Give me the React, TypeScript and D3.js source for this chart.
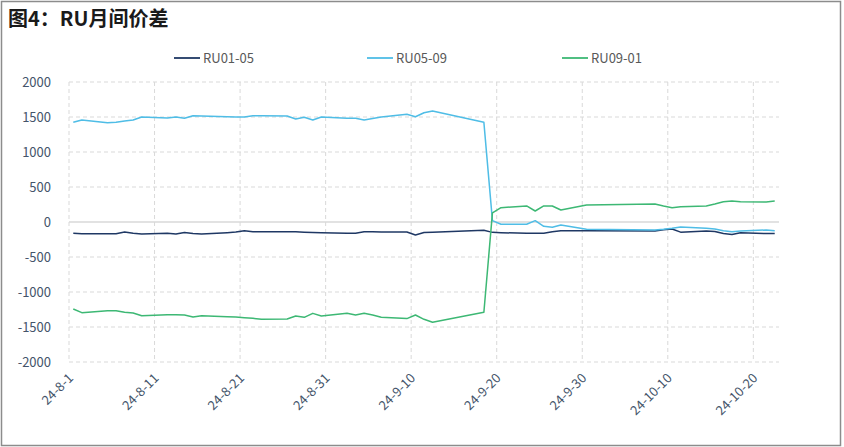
import React from "react";
import * as d3 from "d3";

const dates: string[] = [
  "2024-08-01", "2024-08-02", "2024-08-05", "2024-08-06", "2024-08-07", "2024-08-08", "2024-08-09",
  "2024-08-12", "2024-08-13", "2024-08-14", "2024-08-15", "2024-08-16",
  "2024-08-19", "2024-08-20", "2024-08-21", "2024-08-22", "2024-08-23",
  "2024-08-26", "2024-08-27", "2024-08-28", "2024-08-29", "2024-08-30",
  "2024-09-02", "2024-09-03", "2024-09-04", "2024-09-05", "2024-09-06",
  "2024-09-09", "2024-09-10", "2024-09-11", "2024-09-12",
  "2024-09-18", "2024-09-19", "2024-09-20",
  "2024-09-23", "2024-09-24", "2024-09-25", "2024-09-26", "2024-09-27",
  "2024-09-30",
  "2024-10-08", "2024-10-09", "2024-10-10", "2024-10-11",
  "2024-10-14", "2024-10-15", "2024-10-16", "2024-10-17", "2024-10-18",
  "2024-10-21", "2024-10-22",
];

const ru0105: number[] = [
  -162, -167, -167, -167, -143, -162, -171,
  -162, -171, -150, -165, -171,
  -152, -143, -124, -138, -140,
  -140, -140, -145, -150, -155,
  -162, -162, -140, -140, -143,
  -143, -186, -150, -145,
  -119, -148, -152,
  -162, -162, -160, -140, -124,
  -124,
  -130, -110, -100, -145,
  -130, -135, -165, -180, -155,
  -165, -165,
];

const ru0509: number[] = [
  1424, 1457, 1419, 1424, 1443, 1457, 1500,
  1486, 1500, 1481, 1519, 1514,
  1505, 1500, 1500, 1519, 1519,
  1514, 1471, 1496, 1457, 1500,
  1481, 1481, 1457, 1480, 1500,
  1538, 1504, 1560, 1586,
  1424, 20, -33,
  -33, 19, -62, -76, -43,
  -105,
  -114, -105, -90, -71,
  -90, -100, -125, -138, -130,
  -114, -125,
];

const ru0901: number[] = [
  -1243, -1295, -1267, -1267, -1290, -1300, -1338,
  -1324, -1324, -1330, -1357, -1338,
  -1352, -1357, -1367, -1376, -1390,
  -1386, -1343, -1362, -1305, -1343,
  -1305, -1329, -1305, -1329, -1362,
  -1380, -1329, -1390, -1433,
  -1290, 130, 205,
  229, 157, 229, 229, 171,
  243,
  257, 229, 205, 217,
  229, 257, 290, 300, 290,
  286, 300,
];

const seriesNames: string[] = ["RU01-05", "RU05-09", "RU09-01"];
const seriesColors: string[] = ["#1F3864", "#4FBDE6", "#3DB874"];
const yTicks: number[] = [2000, 1500, 1000, 500, 0, -500, -1000, -1500, -2000];
const xTickDates: string[] = [
  "2024-08-01", "2024-08-11", "2024-08-21", "2024-08-31", "2024-09-10",
  "2024-09-20", "2024-09-30", "2024-10-10", "2024-10-20",
];
const xDomain: string[] = ["2024-08-01", "2024-10-23"];
const title = "图4：RU月间价差";

const W = 844;
const H = 447;
const FONT = "'Noto Sans CJK SC', 'DejaVu Sans', sans-serif";

export default function App() {
  const parse = (s: string) => new Date(s + "T00:00:00Z");
  const x = d3.scaleUtc().domain(xDomain.map(parse)).range([69, 779]);
  const y = d3.scaleLinear().domain([-2000, 2000]).range([362, 82]);
  const xLeft = x.range()[0];
  const xRight = x.range()[1];

  const allSeries = [ru0105, ru0509, ru0901];
  const line = d3
    .line<[Date, number]>()
    .x((d) => x(d3.utcHour.offset(d[0], 12)))
    .y((d) => y(d[1]));

  const fmt = (d: Date) =>
    `${d.getUTCFullYear() % 100}-${d.getUTCMonth() + 1}-${d.getUTCDate()}`;

  const legendX = [174, 367, 562];

  return (
    <svg
      width={W}
      height={H}
      style={{ position: "absolute", left: 0, top: 0, background: "#fff" }}
      fontFamily={FONT}
    >
      <rect x={0} y={0} width={W} height={H} fill="#fff" />
      <rect x={1.5} y={1.5} width={839} height={444} fill="none" stroke="#8c8c8c" strokeWidth={1.5} />
      <text x={8} y={26} fontSize={20} fontWeight="bold" fill="#1a1a1a">
        {title}
      </text>

      {/* legend */}
      {seriesNames.map((n, i) => (
        <g key={n}>
          <line
            x1={legendX[i]}
            x2={legendX[i] + 26}
            y1={58}
            y2={58}
            stroke={seriesColors[i]}
            strokeWidth={1.8}
          />
          <text x={legendX[i] + 29} y={62.5} fontSize={13} fill="#595959">
            {n}
          </text>
        </g>
      ))}

      {/* horizontal gridlines */}
      {yTicks.map((t) => (
        <line
          key={"h" + t}
          x1={xLeft}
          x2={xRight}
          y1={y(t)}
          y2={y(t)}
          stroke="#d9d9d9"
          strokeWidth={t === 0 ? 1.5 : 1}
          strokeDasharray={t === 0 ? undefined : "4,3"}
        />
      ))}
      {/* vertical gridlines */}
      {xTickDates.map((s) => (
        <line
          key={"v" + s}
          x1={x(parse(s))}
          x2={x(parse(s))}
          y1={y(2000)}
          y2={y(-2000)}
          stroke="#d9d9d9"
          strokeWidth={1}
          strokeDasharray="4,3"
        />
      ))}

      {/* y labels */}
      {yTicks.map((t) => (
        <text
          key={"yl" + t}
          x={51}
          y={y(t) + 4.5}
          fontSize={13}
          textAnchor="end"
          fill="#44546A"
        >
          {t}
        </text>
      ))}

      {/* x labels */}
      {xTickDates.map((s) => {
        const px = x(parse(s));
        return (
          <text
            key={"xl" + s}
            transform={`translate(${px + 5},${379}) rotate(-45)`}
            fontSize={13}
            textAnchor="end"
            fill="#44546A"
          >
            {fmt(parse(s))}
          </text>
        );
      })}

      {/* lines */}
      {allSeries.map((vals, i) => (
        <path
          key={"s" + i}
          d={line(dates.map((s, j) => [parse(s), vals[j]] as [Date, number])) || ""}
          fill="none"
          stroke={seriesColors[i]}
          strokeWidth={1.5}
          strokeLinejoin="round"
        />
      ))}
    </svg>
  );
}
